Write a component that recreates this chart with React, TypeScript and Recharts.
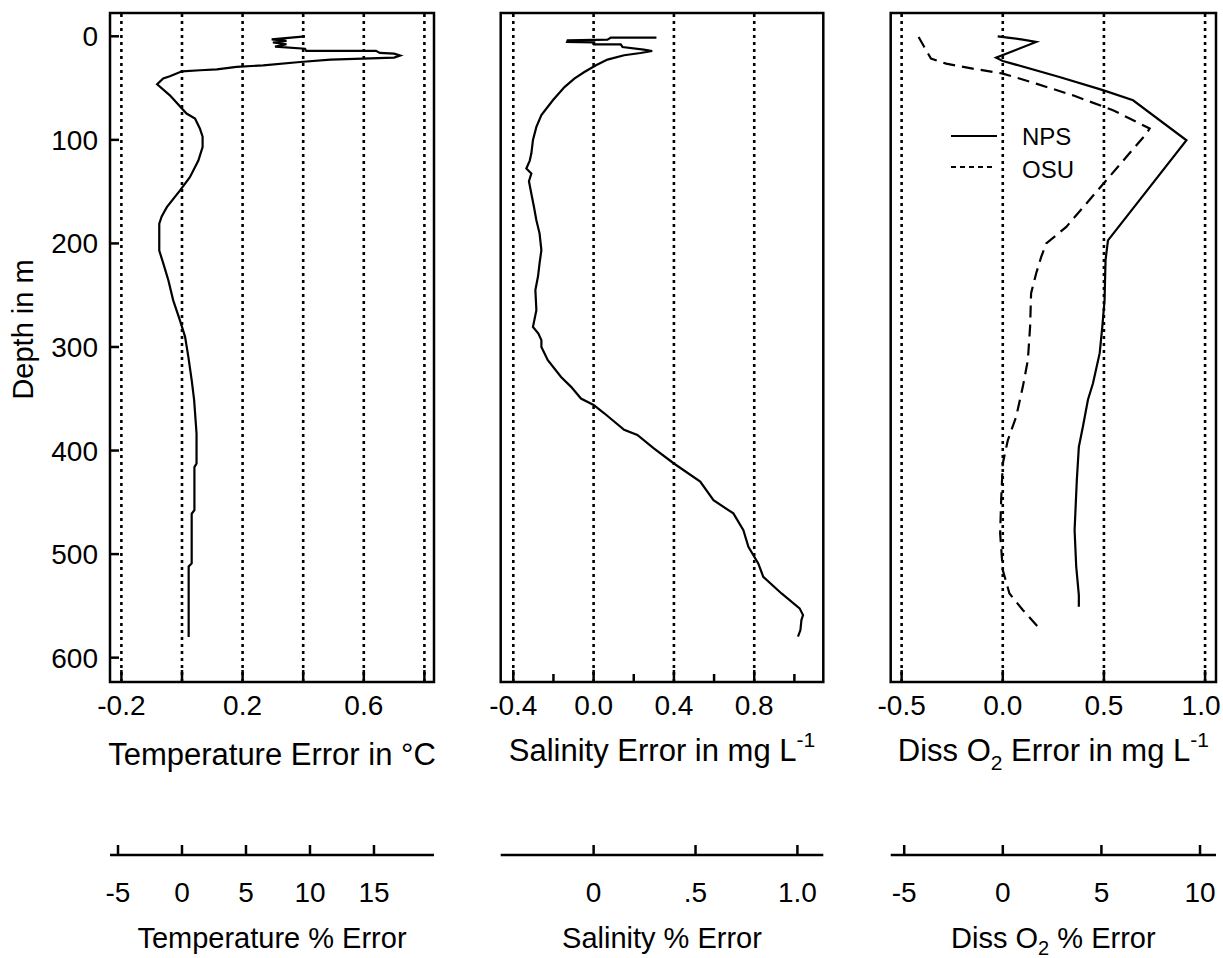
import React from 'react';
import { LineChart, Line, XAxis, YAxis, ReferenceLine, ReferenceArea, Legend } from 'recharts';

const FONT = '"Liberation Sans", Arial, Helvetica, sans-serif';
const INK = '#000';

// depth axis (m), shared by the three panels
const depthTicks = [0, 100, 200, 300, 400, 500, 600];
const depthDomain = [-22.5, 623.5];

// temperature panel
const tempDomain = [-0.2376, 0.8317];
const tempTicks = [-0.2, 0, 0.2, 0.4, 0.6, 0.8];
const tempTickLabels = ['-0.2', '', '0.2', '', '0.6', ''];
const tempGrid = [-0.2, 0, 0.2, 0.4, 0.6, 0.8];
const tempPctDomain = [-5.625, 19.69];
const tempPctTicks = [-5, 0, 5, 10, 15];
const tempPctLabels = ['-5', '0', '5', '10', '15'];
const tempDepth = [0, 3, 4.5, 6, 7.7, 10, 12, 14, 14, 16, 16.7, 18.6, 20.5, 22.5, 24.8, 28, 29.6, 31.9, 32.8, 33.8, 38.6, 40.8, 46.3, 57, 74.6, 79.4, 89, 97, 107, 120, 136, 149, 165, 174, 181, 207, 219, 235.5, 255, 274, 290, 309.5, 332, 351, 383.5, 412.5, 416, 457.5, 461, 509, 512, 580];
const tempError = [0.406, 0.296, 0.345, 0.3, 0.345, 0.307, 0.406, 0.41, 0.64, 0.653, 0.7, 0.72, 0.7, 0.49, 0.39, 0.268, 0.18, 0.115, 0.06, 0, -0.04, -0.062, -0.082, -0.04, 0.015, 0.043, 0.059, 0.068, 0.068, 0.054, 0.026, -0.007, -0.05, -0.067, -0.075, -0.075, -0.062, -0.045, -0.029, -0.007, 0.01, 0.021, 0.032, 0.04, 0.048, 0.048, 0.041, 0.041, 0.032, 0.032, 0.022, 0.022];

// salinity panel
const salDomain = [-0.4627, 1.144];
const salTicks = [-0.4, -0.2, 0, 0.2, 0.4, 0.6, 0.8, 1.0];
const salTickLabels = ['-0.4', '', '0.0', '', '0.4', '', '0.8', ''];
const salMinorTicks = [-0.2, 0.2, 0.6, 1.0];
const salGrid = [-0.4, 0, 0.4, 0.8];
const salPctDomain = [-0.456, 1.127];
const salPctTicks = [0, 0.5, 1.0];
const salPctLabels = ['0', '.5', '1.0'];
const salDepth = [1.3, 1.3, 3.2, 3.9, 5.5, 5.8, 7.7, 7.7, 10.3, 12.8, 14.2, 16.1, 18.3, 22.5, 28, 34.5, 40.8, 49, 61.8, 76, 87.5, 100, 113, 120, 127.7, 132.5, 140, 152, 164.8, 177.6, 190.5, 206.6, 219, 232, 245, 264.5, 280.6, 287, 293.4, 300, 312.7, 328.9, 338.5, 349.8, 356, 364, 380, 385, 398, 412.5, 430, 448, 460.7, 476.8, 492.9, 509, 521.9, 538, 552.4, 558.9, 563.7, 573.4, 579.8];
const salError = [0.313, 0.086, 0.069, -0.129, -0.132, 0.003, 0.003, 0.135, 0.144, 0.25, 0.292, 0.234, 0.152, 0.069, 0.012, -0.046, -0.096, -0.145, -0.203, -0.26, -0.285, -0.302, -0.31, -0.318, -0.335, -0.31, -0.322, -0.31, -0.297, -0.285, -0.269, -0.26, -0.269, -0.277, -0.29, -0.285, -0.302, -0.275, -0.26, -0.26, -0.228, -0.162, -0.112, -0.063, 0, 0.053, 0.152, 0.218, 0.3, 0.4, 0.531, 0.597, 0.696, 0.746, 0.771, 0.82, 0.845, 0.936, 1.026, 1.043, 1.035, 1.03, 1.018];

// dissolved oxygen panel
const o2Domain = [-0.554, 1.054];
const o2Ticks = [-0.5, 0, 0.5, 1.0];
const o2TickLabels = ['-0.5', '0.0', '0.5', '1.0'];
const o2Grid = [-0.5, 0, 0.5, 1.0];
const o2PctDomain = [-5.685, 10.81];
const o2PctTicks = [-5, 0, 5, 10];
const o2PctLabels = ['-5', '0', '5', '10'];
const npsDepth = [0, 3.2, 5.5, 20.6, 23.8, 39.3, 52, 61.8, 100.4, 158, 197, 216, 255, 280.6, 306, 335, 351, 377, 396.4, 428.6, 476.8, 512, 539.6, 550.9];
const npsError = [-0.025, 0.099, 0.165, -0.033, 0, 0.28, 0.495, 0.644, 0.908, 0.677, 0.52, 0.508, 0.503, 0.492, 0.479, 0.446, 0.421, 0.396, 0.376, 0.366, 0.355, 0.363, 0.376, 0.376];
const osuDepth = [0.6, 10.3, 21.5, 26.4, 31.2, 36, 45.7, 57, 71.4, 89, 94, 139, 184, 200, 213, 229, 248, 280.6, 312.7, 338.5, 367.5, 390, 412.5, 448, 480, 515.4, 538, 554, 570];
const osuError = [-0.416, -0.388, -0.355, -0.28, -0.149, 0, 0.165, 0.347, 0.545, 0.726, 0.71, 0.512, 0.314, 0.215, 0.19, 0.165, 0.14, 0.135, 0.124, 0.099, 0.066, 0.025, 0, -0.008, -0.013, 0, 0.033, 0.099, 0.173];

const toRows = (depths: number[], values: number[]) =>
  depths.map((depth, i) => ({ depth, value: values[i] }));

// inward tick + label under the axis
const ErrTick = (props: any) => {
  const { x, y, payload, tickVals, tickText, minorVals, up, labelDy, lastDx } = props;
  const i = tickVals.indexOf(payload.value);
  const minor = minorVals && minorVals.includes(payload.value);
  const text = i >= 0 ? tickText[i] : '';
  const dx = i === tickVals.length - 1 && lastDx ? lastDx : 0;
  return (
    <g>
      <line x1={x} x2={x} y1={y} y2={y - (minor ? 8 : up)} stroke={INK} strokeWidth={2.5} />
      {text && (
        <text x={x + dx} y={y + labelDy} textAnchor="middle" fontSize={28} fontFamily={FONT} fill={INK}>
          {text}
        </text>
      )}
    </g>
  );
};

const DepthTick = (props: any) => {
  const { x, y, payload } = props;
  return (
    <g>
      <line x1={x} x2={x + 9} y1={y} y2={y} stroke={INK} strokeWidth={2.5} />
      <text x={x - 12} y={y + 10} textAnchor="end" fontSize={28} fontFamily={FONT} fill={INK}>
        {payload.value}
      </text>
    </g>
  );
};

const titleLabel = (content: React.ReactNode, dy: number, size: number) => (props: any) => {
  const { x, y, width } = props.viewBox;
  return (
    <text x={x + width / 2} y={y + dy} textAnchor="middle" fontSize={size} fontFamily={FONT} fill={INK} style={{ whiteSpace: 'pre' }}>
      {content}
    </text>
  );
};

const depthLabel = (props: any) => {
  const { x, y, height } = props.viewBox;
  const cx = x + 33;
  const cy = y + height / 2 - 18;
  return (
    <text x={cx} y={cy} textAnchor="middle" fontSize={29} fontFamily={FONT} fill={INK} transform={`rotate(-90 ${cx} ${cy})`}>
      Depth in m
    </text>
  );
};

const renderLegend = (props: any) => (
  <svg width={170} height={80}>
    {(props.payload || []).map((entry: any, i: number) => (
      <g key={entry.value}>
        <line x1={6} x2={i ? 47 : 52} y1={22 + i * 31} y2={22 + i * 31} stroke={INK} strokeWidth={2} strokeDasharray={i ? '5 4' : undefined} />
        <text x={77} y={31 + i * 33} fontSize={24} fontFamily={FONT} fill={INK}>
          {entry.value}
        </text>
      </g>
    ))}
  </svg>
);

type Series = { name: string; data: { depth: number; value: number }[]; dash?: string };

type PanelProps = {
  left: number;
  width: number;
  marginLeft: number;
  marginRight: number;
  showDepth: boolean;
  domain: number[];
  ticks: number[];
  tickLabels: string[];
  minorTicks?: number[];
  lastDx?: number;
  grid: number[];
  pctDomain: number[];
  pctTicks: number[];
  pctLabels: string[];
  series: Series[];
  title: React.ReactNode;
  titleDy: number;
  pctTitle: React.ReactNode;
  legend?: boolean;
};

function Panel(p: PanelProps) {
  return (
    <div style={{ position: 'absolute', left: p.left, top: 0 }}>
      <LineChart
        width={p.width}
        height={958}
        layout="vertical"
        margin={{ top: 13, right: p.marginRight, bottom: 0, left: p.marginLeft }}
      >
        <XAxis
          xAxisId="err"
          type="number"
          domain={p.domain}
          allowDataOverflow
          ticks={p.ticks}
          interval={0}
          height={173}
          tickSize={0}
          tickMargin={0}
          tickLine={false}
          axisLine={false}
          tick={<ErrTick tickVals={p.ticks} tickText={p.tickLabels} minorVals={p.minorTicks} up={12} labelDy={33} lastDx={p.lastDx} />}
          label={titleLabel(p.title, p.titleDy, 31)}
        />
        <XAxis
          xAxisId="pct"
          type="number"
          domain={p.pctDomain}
          allowDataOverflow
          ticks={p.pctTicks}
          interval={0}
          height={103}
          tickSize={0}
          tickMargin={0}
          tickLine={false}
          axisLine={{ stroke: INK, strokeWidth: 2.5 }}
          tick={<ErrTick tickVals={p.pctTicks} tickText={p.pctLabels} up={10} labelDy={47} />}
          label={titleLabel(p.pctTitle, 93, 29)}
        />
        <YAxis
          yAxisId="depth"
          type="number"
          dataKey="depth"
          domain={depthDomain}
          allowDataOverflow
          ticks={depthTicks}
          interval={0}
          hide={!p.showDepth}
          width={p.showDepth ? 110 : 0}
          tickSize={0}
          tickMargin={0}
          tickLine={false}
          axisLine={false}
          tick={p.showDepth ? <DepthTick /> : false}
          label={p.showDepth ? depthLabel : undefined}
        />
        {p.grid.map((v) => (
          <ReferenceLine key={v} xAxisId="err" yAxisId="depth" x={v} stroke={INK} strokeWidth={2.6} strokeDasharray="3 4" />
        ))}
        <ReferenceArea
          xAxisId="err"
          yAxisId="depth"
          x1={p.domain[0]}
          x2={p.domain[1]}
          y1={depthDomain[0]}
          y2={depthDomain[1]}
          fill="none"
          fillOpacity={0}
          stroke={INK}
          strokeWidth={2.5}
          ifOverflow="visible"
        />
        {p.series.map((s) => (
          <Line
            key={s.name}
            xAxisId="err"
            yAxisId="depth"
            name={s.name}
            data={s.data}
            dataKey="value"
            type="linear"
            stroke={INK}
            strokeWidth={2.2}
            strokeDasharray={s.dash}
            dot={false}
            activeDot={false}
            isAnimationActive={false}
          />
        ))}
        {p.legend && (
          <Legend
            layout="vertical"
            align="center"
            verticalAlign="middle"
            content={renderLegend}
            wrapperStyle={{ position: 'absolute', left: 75, top: 114, width: 170, height: 80 }}
          />
        )}
      </LineChart>
    </div>
  );
}

export default function App() {
  return (
    <div style={{ position: 'absolute', left: 0, top: 0, width: 1223, height: 958, background: '#fff', fontFamily: FONT }}>
      <Panel
        left={0}
        width={440}
        marginLeft={0}
        marginRight={6}
        showDepth
        domain={tempDomain}
        ticks={tempTicks}
        tickLabels={tempTickLabels}
        grid={tempGrid}
        pctDomain={tempPctDomain}
        pctTicks={tempPctTicks}
        pctLabels={tempPctLabels}
        series={[{ name: 'Temperature', data: toRows(tempDepth, tempError) }]}
        title="Temperature Error in °C"
        titleDy={83}
        pctTitle="Temperature % Error"
      />
      <Panel
        left={480}
        width={350}
        marginLeft={20.7}
        marginRight={6.7}
        showDepth={false}
        domain={salDomain}
        ticks={salTicks}
        tickLabels={salTickLabels}
        minorTicks={salMinorTicks}
        grid={salGrid}
        pctDomain={salPctDomain}
        pctTicks={salPctTicks}
        pctLabels={salPctLabels}
        series={[{ name: 'Salinity', data: toRows(salDepth, salError) }]}
        title={
          <>
            Salinity Error in mg L<tspan dy={-14} fontSize={21}>-1</tspan>
          </>
        }
        titleDy={79}
        pctTitle="Salinity % Error"
      />
      <Panel
        left={870}
        width={353}
        marginLeft={20.7}
        marginRight={7}
        showDepth={false}
        domain={o2Domain}
        ticks={o2Ticks}
        tickLabels={o2TickLabels}
        lastDx={-4}
        grid={o2Grid}
        pctDomain={o2PctDomain}
        pctTicks={o2PctTicks}
        pctLabels={o2PctLabels}
        series={[
          { name: 'NPS', data: toRows(npsDepth, npsError) },
          { name: 'OSU', data: toRows(osuDepth, osuError), dash: '12 7' },
        ]}
        title={
          <>
            Diss O<tspan dy={9} fontSize={21}>2</tspan>
            <tspan dy={-9}> Error in mg L</tspan>
            <tspan dy={-14} fontSize={21}>-1</tspan>
          </>
        }
        titleDy={79}
        pctTitle={
          <>
            Diss O<tspan dy={7} fontSize={20}>2</tspan>
            <tspan dy={-7}> % Error</tspan>
          </>
        }
        legend
      />
    </div>
  );
}
